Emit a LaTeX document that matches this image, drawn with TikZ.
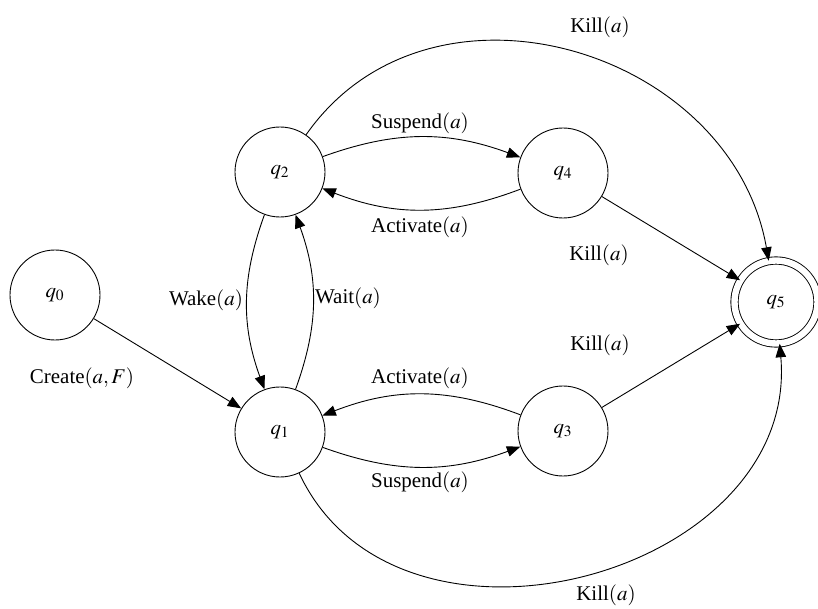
\documentclass[tikz,border=0pt]{standalone}
\usepackage{amssymb,amsmath}
\usepackage{mathptmx}
\usepackage{fontspec}
\setmainfont{Liberation Serif}
\usetikzlibrary{arrows.meta,positioning}
\tikzset{
  state/.style={circle, draw, line width=0.6pt, minimum size=2.115cm, inner sep=0pt, font=\fontsize{14}{16}\selectfont},
  final/.style={state, double, double distance=0.15cm, minimum size=1.95cm},
  trans/.style={-{Triangle[length=9pt,width=7pt]}, line width=0.6pt},
  lbl/.style={font=\fontsize{14}{16}\selectfont, inner sep=0pt}
}
\begin{document}
\begin{tikzpicture}[x=0.0235cm, y=0.0235cm]
            \useasboundingbox (0,0) rectangle (818,608);
            % States
            \node[state] (q0) at (55,313) {$q_0$};
            \node[state] (q1) at (280,176) {$q_1$};
            \node[state] (q2) at (280,436) {$q_2$};
            \node[state] (q3) at (563,177) {$q_3$};
            \node[state] (q4) at (563,435) {$q_4$};
            \node[final] (q5) at (776,306) {$q_5$};

            % Transitions
            \draw[trans] (q0) -- (q1);
            \draw[trans] (q2) to[bend right=20] (q1);
            \draw[trans] (q1) to[bend right=20] (q2);
            \draw[trans] (q2) to[bend left=20] (q4);
            \draw[trans] (q4) to[bend left=21] (q2);
            \draw[trans] (q1) to[bend right=20] (q3);
            \draw[trans] (q3) to[bend right=21] (q1);
            \draw[trans] (q4) -- (q5);
            \draw[trans] (q3) -- (q5);
            \draw[trans] (q2) to[out=55, in=100, looseness=1.15] (q5);
            \draw[trans] (q1) to[out=-65, in=-85, looseness=1.2] (q5);

            % Labels
            \node[lbl] (l01) at (82,230) {Create$(a,F)$};
            \node[lbl] (l21) at (206,308) {Wake$(a)$};
            \node[lbl] (l12) at (348,310) {Wait$(a)$};
            \node[lbl] (l24) at (420,485) {Suspend$(a)$};
            \node[lbl] (l42) at (420,381) {Activate$(a)$};
            \node[lbl] (l31) at (420,230) {Activate$(a)$};
            \node[lbl] (l13) at (420,126) {Suspend$(a)$};
            \node[lbl] (l45) at (599,353) {Kill$(a)$};
            \node[lbl] (l35) at (600,263) {Kill$(a)$};
            \node[lbl] (l25) at (600,581) {Kill$(a)$};
            \node[lbl] (l15) at (606,13) {Kill$(a)$};
\end{tikzpicture}
\end{document}
